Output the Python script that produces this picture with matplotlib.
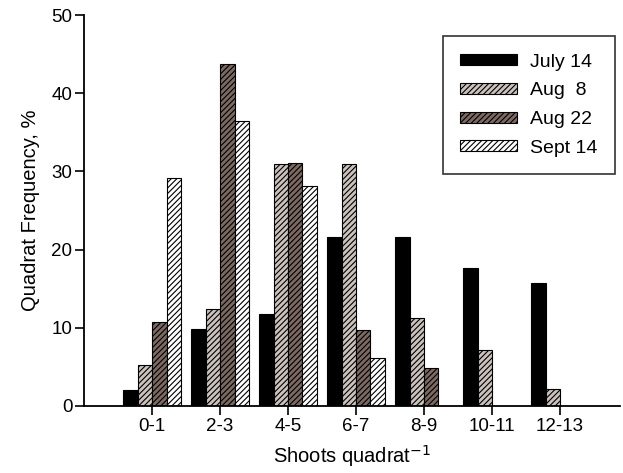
import numpy as np
import matplotlib.pyplot as plt

plt.rcParams['font.family'] = ['Liberation Sans', 'DejaVu Sans']
plt.rcParams['hatch.linewidth'] = 0.8

categories = ['0-1', '2-3', '4-5', '6-7', '8-9', '10-11', '12-13']
july14 = [2.0, 9.8, 11.8, 21.6, 21.6, 17.7, 15.7]
aug8 = [5.2, 12.4, 30.9, 30.9, 11.3, 7.2, 2.1]
aug22 = [10.7, 43.7, 31.1, 9.7, 4.9, 0, 0]
sept14 = [29.2, 36.5, 28.1, 6.1, 0, 0, 0]

series = [('July 14', july14, 'black', ''),
          ('Aug  8', aug8, '#cbc2bd', '//////'),
          ('Aug 22', aug22, '#7b6962', '//////'),
          ('Sept 14', sept14, 'white', '//////')]

fig, ax = plt.subplots(figsize=(6.23, 4.73), dpi=100)
fig.subplots_adjust(left=0.135, right=0.995, bottom=0.142, top=0.968)

x = np.arange(len(categories))
w = 0.212
for i, (name, vals, col, hatch) in enumerate(series):
    vals = np.array(vals, dtype=float)
    mask = vals > 0
    ax.bar(x[mask] + (i - 1.5) * w, vals[mask], width=w, color=col,
           edgecolor='black', linewidth=0.8, hatch=hatch, label=name)

ax.set_xlim(-1, 6.88)
ax.set_ylim(0, 50)
ax.set_xticks(x)
ax.set_xticklabels(categories)
ax.set_yticks(range(0, 51, 10))
ax.tick_params(direction='out', length=6.5, width=1.2, labelsize=13.5, pad=2)
for s in ['top', 'right']:
    ax.spines[s].set_visible(False)
for s in ['left', 'bottom']:
    ax.spines[s].set_linewidth(1.3)

ax.set_xlabel('Shoots quadrat$^{-1}$', fontsize=14.5, labelpad=6)
ax.set_ylabel('Quadrat Frequency, %', fontsize=14.5, labelpad=8)

leg = ax.legend(loc='upper right', bbox_to_anchor=(0.991, 0.946), fontsize=14,
                fancybox=False, edgecolor='black', handlelength=2.9,
                handleheight=0.5, handletextpad=0.7, borderpad=0.9,
                labelspacing=0.6, borderaxespad=0)
leg.get_frame().set_linewidth(1.2)

plt.savefig('out.png', dpi=100)
